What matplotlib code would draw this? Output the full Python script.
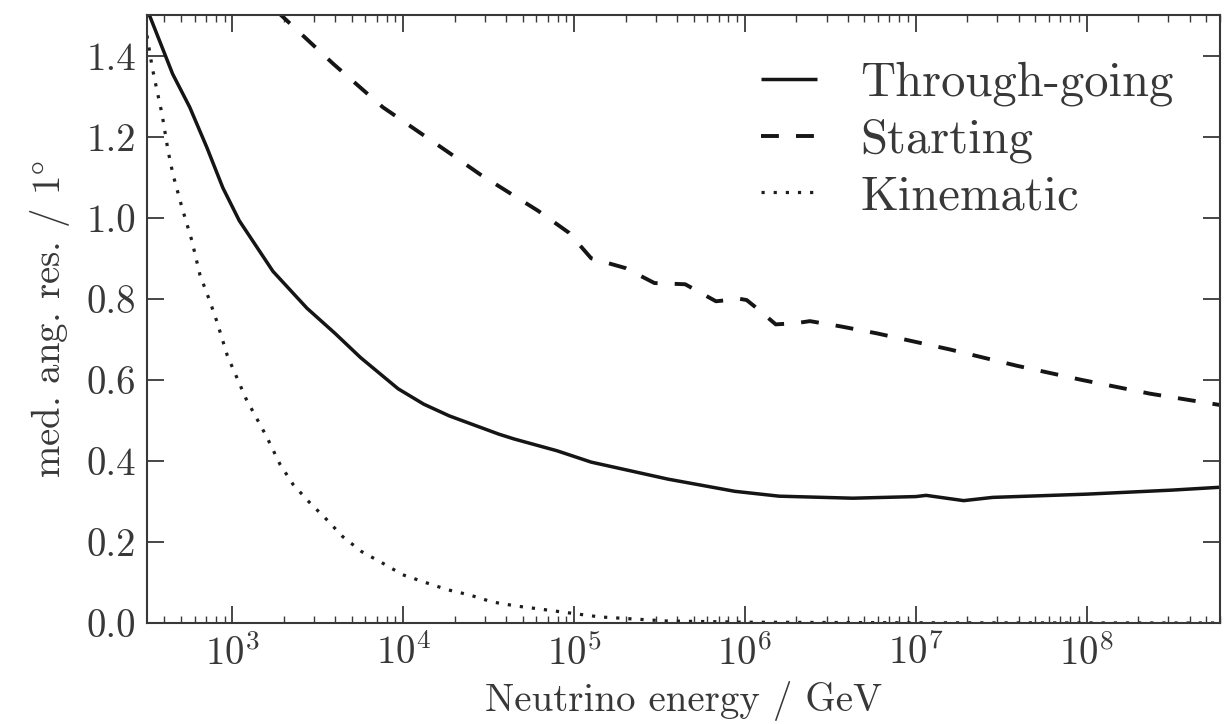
import numpy as np
import matplotlib
matplotlib.use("Agg")
import matplotlib.pyplot as plt
from matplotlib import ticker

# ---- data (log10 of neutrino energy in GeV, median angular resolution in deg)
through_logE = [2.5, 2.518, 2.65, 2.75, 2.85, 2.944, 3.04, 3.237, 3.436, 3.6, 3.75, 3.97, 4.12, 4.27,
                4.56, 4.65, 4.9, 5.1, 5.55, 5.94, 6.2, 6.63, 7.0, 7.06, 7.28, 7.45, 8.0, 8.5, 8.78]
through_res = [1.51, 1.496, 1.355, 1.273, 1.174, 1.074, 0.993, 0.868, 0.777, 0.715, 0.655, 0.578, 0.54, 0.511,
               0.466, 0.454, 0.425, 0.397, 0.355, 0.325, 0.313, 0.308, 0.312, 0.315, 0.302, 0.31, 0.318, 0.328, 0.335]

starting_logE = [3.26, 3.295, 3.59, 3.88, 4.27, 4.45, 4.79, 4.97, 5.10, 5.30, 5.47, 5.65,
                 5.83, 5.97, 6.01, 6.06, 6.18, 6.30, 6.38, 6.56, 6.77, 7.20, 7.59, 7.97, 8.37, 8.78]
starting_res = [1.51, 1.496, 1.38, 1.273, 1.16, 1.107, 1.017, 0.963, 0.90, 0.876, 0.839, 0.836,
                0.794, 0.80, 0.797, 0.78, 0.737, 0.74, 0.745, 0.732, 0.715, 0.675, 0.635, 0.60, 0.566, 0.538]

kinematic_logE = [2.5, 2.53, 2.558, 2.588, 2.623, 2.652, 2.705, 2.763, 2.81, 2.868, 2.909, 2.97,
                  3.08, 3.20, 3.278, 3.355, 3.45, 3.55, 3.646, 3.757, 3.874, 3.997, 4.137, 4.26,
                  4.39, 4.52, 4.66, 4.79, 4.95, 5.15, 5.54, 6.0, 7.0, 8.78]
kinematic_res = [1.45, 1.372, 1.315, 1.256, 1.166, 1.107, 1.025, 0.943, 0.859, 0.794, 0.744, 0.66,
                 0.553, 0.46, 0.392, 0.342, 0.298, 0.256, 0.213, 0.176, 0.149, 0.119, 0.099, 0.082,
                 0.069, 0.052, 0.042, 0.035, 0.026, 0.015, 0.005, 0.002, 0.0005, 0.0]

labels = ["Through-going", "Starting", "Kinematic"]
xlim_log = (2.5, 8.78)
ylim = (0.0, 1.5)
xtick_exps = [3, 4, 5, 6, 7, 8]
yticks = [0.0, 0.2, 0.4, 0.6, 0.8, 1.0, 1.2, 1.4]

plt.rcParams.update({
    "font.family": "serif",
    "font.serif": ["cmr10", "DejaVu Serif"],
    "mathtext.fontset": "cm",
    "axes.formatter.use_mathtext": True,
    "font.size": 28,
    "text.color": "#383838",
    "axes.labelcolor": "#383838",
    "xtick.color": "#383838",
    "ytick.color": "#383838",
    "axes.edgecolor": "#383838",
})

fig = plt.figure(figsize=(12.24, 7.24), dpi=100)
ax = fig.add_axes([0.1201, 0.1395, 0.8766, 0.8395])

ax.plot(10 ** np.array(through_logE), through_res, color="#151515", lw=2.5, ls="-",
        label=labels[0], solid_capstyle="butt")
ax.plot(10 ** np.array(starting_logE), starting_res, color="#151515", lw=2.8, ls=(0, (4.6, 4.4)),
        label=labels[1])
ax.plot(10 ** np.array(kinematic_logE), kinematic_res, color="#1e1e1e", lw=2.3, ls=(0, (1, 2.8)),
        label=labels[2])

ax.set_xscale("log")
ax.set_xlim(10 ** xlim_log[0], 10 ** xlim_log[1])
ax.set_ylim(*ylim)
ax.set_yticks(yticks)
ax.yaxis.set_major_formatter(ticker.FormatStrFormatter("%.1f"))
ax.set_xticks([10.0 ** e for e in xtick_exps])
ax.set_xticklabels([r"$10^{%d}$" % e for e in xtick_exps])
ax.xaxis.set_minor_locator(ticker.LogLocator(base=10, subs=np.arange(2, 10), numticks=40))
ax.xaxis.set_minor_formatter(ticker.NullFormatter())

ax.tick_params(which="major", direction="in", length=12, width=1.3, top=True, right=True,
               labelsize=28, pad=8)
ax.tick_params(which="minor", direction="in", length=5, width=1.0, top=True, right=True)
for s in ax.spines.values():
    s.set_linewidth(1.5)

ax.set_xlabel("Neutrino energy / GeV", fontsize=28, labelpad=6)
ax.set_ylabel(r"med. ang. res. / $1\degree$", fontsize=28, labelpad=10)

ax.legend(loc="upper right", frameon=False, fontsize=35, handlelength=1.15, handletextpad=0.9,
          labelspacing=0.25, borderaxespad=0.5, borderpad=0.45)

fig.savefig("out.png", dpi=100)
